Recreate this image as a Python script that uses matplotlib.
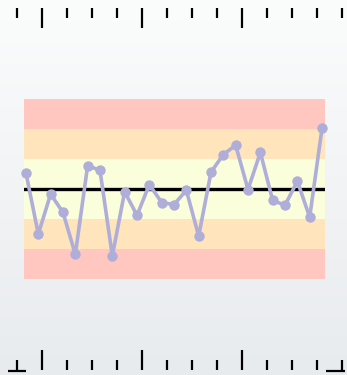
import numpy as np
import matplotlib
matplotlib.use("Agg")
import matplotlib.pyplot as plt

# Control chart: observations expressed in sigma units around the centre line
sample = list(range(1, 26))
sigma_value = [0.54, -1.49, -0.16, -0.77, -2.17, 0.79, 0.63, -2.22, -0.08, -0.87,
               0.16, -0.44, -0.51, -0.03, -1.56, 0.57, 1.16, 1.47, -0.01, 1.23,
               -0.37, -0.53, 0.27, -0.93, 2.04]

# Zone bands from bottom to top (sigma limits) and their colours
zone_edges = [-3, -2, -1, 0, 1, 2, 3]
zone_colors = ["#ffc7bf", "#ffe4bc", "#fbfedb", "#fbfedb", "#ffe4bc", "#ffc7bf"]

W, H = 347, 375
fig = plt.figure(figsize=(W / 100, H / 100), dpi=100)

# soft vertical gradient backdrop
bg = fig.add_axes([0, 0, 1, 1], zorder=0)
grad = np.linspace(0, 1, 256).reshape(-1, 1)
top = np.array([0.985, 0.988, 0.988])
bot = np.array([0.910, 0.922, 0.933])
img = top[None, None, :] * (1 - grad[:, :, None]) + bot[None, None, :] * grad[:, :, None]
bg.imshow(img, aspect="auto", extent=[0, 1, 0, 1], origin="upper")
bg.set_axis_off()

# main chart area
ax = fig.add_axes([24 / W, (H - 279.3) / H, 301 / W, 180 / H], zorder=1)
ax.patch.set_alpha(0)
for lo, hi, c in zip(zone_edges[:-1], zone_edges[1:], zone_colors):
    ax.axhspan(lo, hi, color=c, lw=0, zorder=0)
ax.axhline(0, color="black", lw=2.4, zorder=2)
x = np.arange(len(sample))
ax.plot(x, sigma_value, color="#aeaed9", lw=2.6, marker="o", ms=7.5,
        markeredgewidth=0, zorder=3, clip_on=False)
ax.set_xlim(-0.16, 24.24)
ax.set_ylim(-3, 3)
ax.set_axis_off()

# ruler ticks along the top and bottom edges
ov = fig.add_axes([0, 0, 1, 1], zorder=2)
ov.patch.set_alpha(0)
ov.set_xlim(0, W)
ov.set_ylim(H, 0)
ov.set_axis_off()
tick_x = [16.7 + 25 * k for k in range(14)]
for k, tx in enumerate(tick_x):
    long_tick = k in (1, 5, 9)
    ov.plot([tx, tx], [8, 28 if long_tick else 18], color="black", lw=1.6,
            solid_capstyle="butt")
    ov.plot([tx, tx], [350 if long_tick else 360, 370], color="black", lw=1.6,
            solid_capstyle="butt")
ov.plot([8, 26], [370.5, 370.5], color="black", lw=1.6, solid_capstyle="butt")
ov.plot([326, 345], [370.5, 370.5], color="black", lw=1.6, solid_capstyle="butt")

fig.savefig("out.png", dpi=100)
